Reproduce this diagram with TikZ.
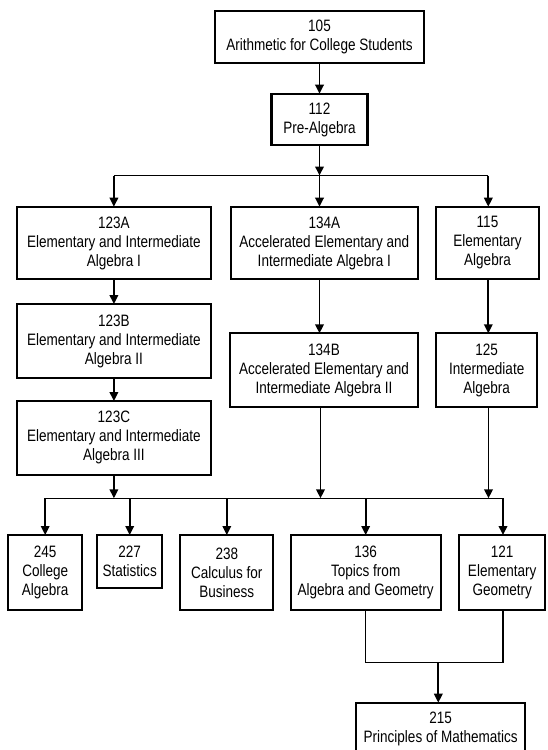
\documentclass[tikz,border=0pt]{standalone}
\usepackage{fontspec}
\setmainfont{Liberation Sans}[FakeStretch=0.82]
\usetikzlibrary{arrows.meta}
\tikzset{
  box/.style={draw=black, line width=2.2pt, fill=white, inner sep=0pt, outer sep=0pt, align=center},
  arr/.style={line width=1.9pt, -{Triangle[width=8.5pt,length=9pt]}},
  busline/.style={line width=1.2pt},
}
\begin{document}
\begin{tikzpicture}[x=1pt,y=-1pt,font=\fontsize{16.5}{19}\selectfont]
\useasboundingbox (0,0) rectangle (547,750);
\clip (0,0) rectangle (547,750);
\fill[white] (0,0) rectangle (547,750);

% nodes
\node[box, minimum width=209pt, minimum height=51.7pt] (n105) at (319.5,36.9) {105\\Arithmetic for College Students};
\node[box, minimum width=96pt, minimum height=51.6pt] (n112) at (319.5,119.5) {112\\Pre-Algebra};

\node[box, minimum width=194.3pt, minimum height=72.6pt] (n123A) at (113.9,243) {123A\\Elementary and Intermediate\\Algebra I};
\node[box, minimum width=186.7pt, minimum height=72.6pt] (n134A) at (324.3,243) {134A\\Accelerated Elementary and\\Intermediate Algebra I};
\node[box, minimum width=102.4pt, minimum height=72.6pt] (n115) at (487.5,243) {115\\Elementary\\Algebra};

\node[box, minimum width=194.3pt, minimum height=74.3pt] (n123B) at (113.9,341.2) {123B\\Elementary and Intermediate\\Algebra II};
\node[box, minimum width=187.4pt, minimum height=73.4pt] (n134B) at (324,370) {134B\\Accelerated Elementary and\\Intermediate Algebra II};
\node[box, minimum width=100.7pt, minimum height=73.4pt] (n125) at (486.7,370) {125\\Intermediate\\Algebra};

\node[box, minimum width=194.3pt, minimum height=73.7pt] (n123C) at (113.9,437.9) {123C\\Elementary and Intermediate\\Algebra III};

\node[box, minimum width=73.7pt, minimum height=75pt] (n245) at (45.2,572.5) {245\\College\\Algebra};
\node[box, minimum width=64.7pt, minimum height=53.3pt] (n227) at (129.7,561.7) {227\\Statistics};
\node[box, minimum width=93.1pt, minimum height=75pt] (n238) at (226.8,572.5) {238\\Calculus for\\Business};
\node[box, minimum width=150pt, minimum height=75pt] (n136) at (365.7,572.5) {136\\Topics from\\Algebra and Geometry};
\node[box, minimum width=85.7pt, minimum height=75pt] (n121) at (502.2,572.5) {121\\Elementary\\Geometry};

\node[box, minimum width=169.3pt, minimum height=52pt] (n215) at (440.7,728.7) {215\\Principles of Mathematics};

% bus coordinates
\coordinate (b1) at (319.5,175.5);
\coordinate (b1l) at (113.9,175.5);
\coordinate (b1r) at (488.3,175.5);
\coordinate (b2) at (113.9,498.3);
\coordinate (b2m) at (320.5,498.3);
\coordinate (b2r) at (488.5,498.3);
\coordinate (b2a) at (45.2,498.3);
\coordinate (b2e) at (503,498.3);
\coordinate (j1) at (365.7,662.7);
\coordinate (j2) at (503,662.7);
\coordinate (jm) at (438.3,662.7);

% top connectors
\draw[arr] (n105) -- (n112);
\draw[arr] (n112) -- (b1);
\draw[busline] (b1l) -- (b1r);
\draw[arr] (b1l) -- (n123A);
\draw[arr] (b1) -- (b1 |- n134A.north);
\draw[arr] (b1r) -- (b1r |- n115.north);

% columns
\draw[arr] (n123A) -- (n123B);
\draw[arr] (n123B) -- (n123C);
\draw[arr] (b1 |- n134A.south) -- (b1 |- n134B.north);
\draw[arr] (b1r |- n115.south) -- (b1r |- n125.north);

% into bus 2
\draw[arr] (n123C) -- (b2);
\draw[arr] (b2m |- n134B.south) -- (b2m);
\draw[arr] (b2r |- n125.south) -- (b2r);
\draw[busline] (b2a) -- (b2e);

% drops from bus 2
\draw[arr] (b2a) -- (n245);
\draw[arr] (n227 |- b2a) -- (n227);
\draw[arr] (n238 |- b2a) -- (n238);
\draw[arr] (n136 |- b2a) -- (n136);
\draw[arr] (b2e) -- (b2e |- n121.north);

% junction to 215
\draw[busline] (n136.south) -- (j1) -- (j2) -- (j2 |- n121.south);
\draw[arr] (jm) -- (jm |- n215.north);
\end{tikzpicture}
\end{document}
